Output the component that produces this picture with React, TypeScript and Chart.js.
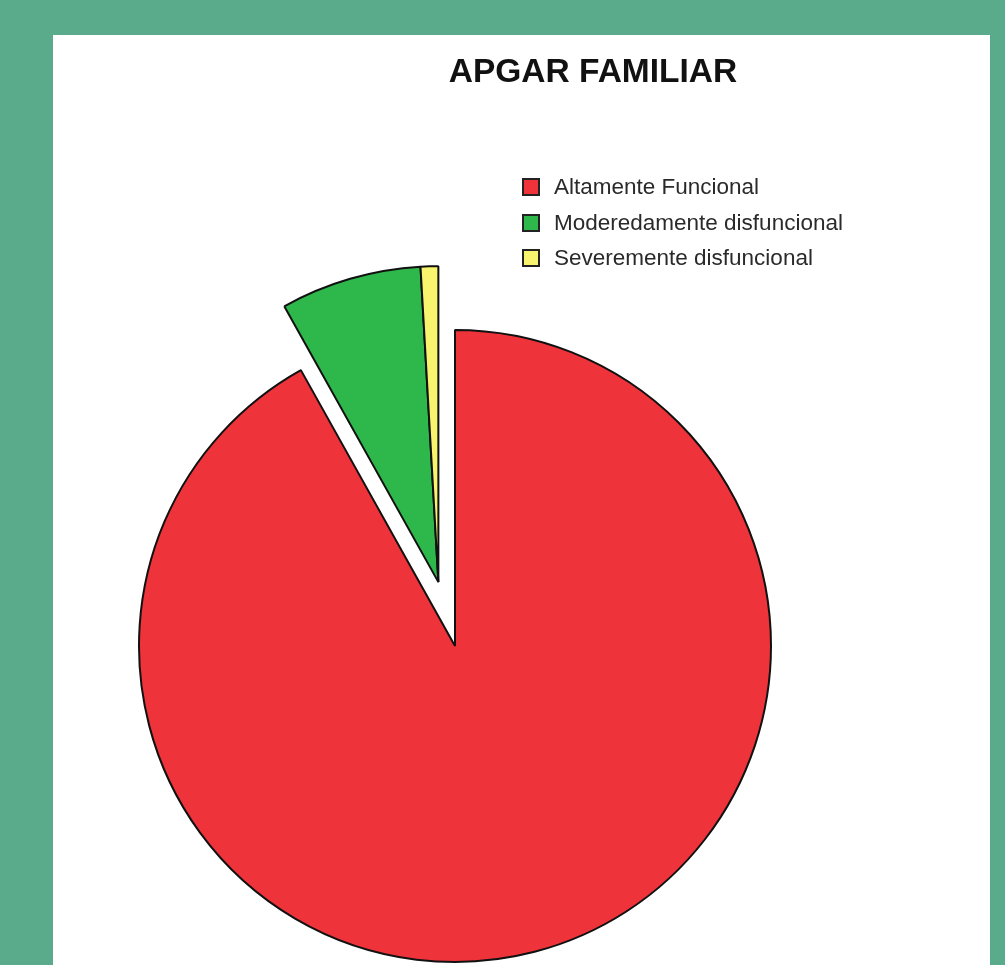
import React, { useEffect, useRef } from "react";
import { Chart, registerables } from "chart.js";

Chart.register(...registerables);

const titleText = "APGAR FAMILIAR";
const categories = [
  "Altamente Funcional",
  "Moderedamente disfuncional",
  "Severemente disfuncional",
];
const counts = [102, 8, 1];
const sliceColors = ["#EF333A", "#2EB74A", "#F9F46E"];
const explodedSlices = [1, 2];

const EXPLODE_DISTANCE = 66;

const groupExplodePlugin = {
  id: "groupExplode",
  afterDatasetsUpdate(chart: any) {
    const meta = chart.getDatasetMeta(0);
    const arcs = explodedSlices.map((i) => meta.data[i]).filter(Boolean);
    if (!arcs.length) return;
    const start = Math.min(...arcs.map((a: any) => a.startAngle));
    const end = Math.max(...arcs.map((a: any) => a.endAngle));
    const mid = (start + end) / 2;
    const dx = Math.cos(mid) * EXPLODE_DISTANCE;
    const dy = Math.sin(mid) * EXPLODE_DISTANCE;
    arcs.forEach((a: any) => {
      a.x += dx;
      a.y += dy;
    });
  },
};

export default function App() {
  const canvasRef = useRef<HTMLCanvasElement | null>(null);

  useEffect(() => {
    if (!canvasRef.current) return;
    const chart = new Chart(canvasRef.current, {
      type: "pie",
      data: {
        labels: categories,
        datasets: [
          {
            data: counts,
            backgroundColor: sliceColors,
            borderColor: "#111111",
            borderWidth: 2,
          },
        ],
      },
      options: {
        responsive: false,
        animation: false,
        events: [],
        layout: { padding: { left: 85, top: 294, right: 218, bottom: 2 } },
        plugins: {
          legend: { display: false },
          tooltip: { enabled: false },
          title: { display: false },
        },
      },
      plugins: [groupExplodePlugin],
    });
    return () => chart.destroy();
  }, []);

  const font = "'Liberation Sans', Arial, Helvetica, sans-serif";

  return (
    <div
      style={{
        position: "fixed",
        left: 0,
        top: 0,
        width: 1005,
        height: 965,
        background: "#5AAB8B",
        overflow: "hidden",
      }}
    >
      <div
        style={{
          position: "absolute",
          left: 53,
          top: 35,
          width: 937,
          height: 930,
          background: "#ffffff",
        }}
      >
        <canvas
          ref={canvasRef}
          width={937}
          height={930}
          style={{ position: "absolute", left: 0, top: 0, width: 937, height: 930 }}
        />
        <div
          style={{
            position: "absolute",
            left: 540,
            top: 19,
            transform: "translateX(-50%)",
            fontFamily: font,
            fontWeight: "bold",
            fontSize: 33.5,
            lineHeight: "33px",
            color: "#111",
            whiteSpace: "nowrap",
          }}
        >
          {titleText}
        </div>
        {categories.map((c, i) => (
          <div
            key={c}
            style={{
              position: "absolute",
              left: 469,
              top: 152 + i * 35.5 - 17,
              height: 34,
              display: "flex",
              alignItems: "center",
              fontFamily: font,
              fontSize: 22.5,
              color: "#2a2a2a",
              whiteSpace: "nowrap",
            }}
          >
            <span
              style={{
                display: "inline-block",
                boxSizing: "border-box",
                width: 18,
                height: 18,
                border: "2px solid #222",
                background: sliceColors[i],
                marginRight: 14,
              }}
            />
            <span>{c}</span>
          </div>
        ))}
      </div>
    </div>
  );
}
